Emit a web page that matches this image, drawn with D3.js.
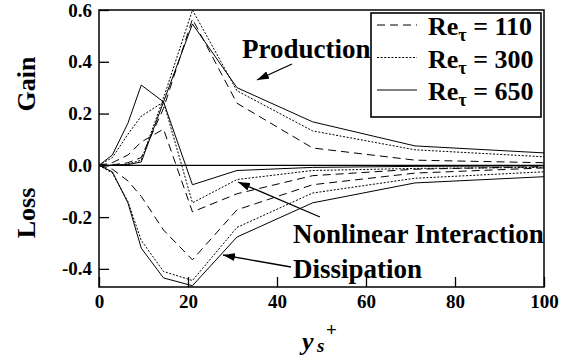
<!DOCTYPE html>
<html>
<head>
<meta charset="utf-8">
<script src="https://cdn.jsdelivr.net/npm/d3@7"></script>
<style>
  body { margin: 0; background: #fff; }
  svg text { font-family: "Liberation Serif", "Times New Roman", Times, Tinos, "Nimbus Roman", "DejaVu Serif", serif; font-weight: bold; fill: #000; }
</style>
</head>
<body>
<div id="chart"></div>
<script>
// y_s+ positions of the budget points
const ysPlus = [0, 3, 6.5, 9.5, 14.5, 21, 31, 48, 71, 100];

// production
const prod110 = [0, 0.002, 0.01, 0.03, 0.22, 0.565, 0.24, 0.067, 0.02, 0.01];
const prod300 = [0, 0, 0.005, 0.02, 0.26, 0.6, 0.288, 0.133, 0.06, 0.033];
const prod650 = [0, 0, 0.003, 0.013, 0.245, 0.546, 0.30, 0.168, 0.075, 0.048];

// nonlinear interaction
const nonlin110 = [0, 0.01, 0.04, 0.09, 0.14, -0.18, -0.11, -0.04, -0.015, -0.005];
const nonlin300 = [0, 0.03, 0.12, 0.19, 0.245, -0.145, -0.055, -0.02, -0.012, -0.008];
const nonlin650 = [0, 0.04, 0.163, 0.31, 0.245, -0.075, -0.02, -0.008, -0.004, -0.002];

// dissipation
const diss110 = [0, -0.015, -0.06, -0.12, -0.25, -0.365, -0.172, -0.075, -0.03, -0.01];
const diss300 = [0, -0.03, -0.14, -0.29, -0.41, -0.445, -0.24, -0.107, -0.05, -0.025];
const diss650 = [0, -0.025, -0.145, -0.32, -0.435, -0.465, -0.277, -0.145, -0.068, -0.044];

// legend / tick labels
const reLabels = ["110", "300", "650"];
const xTicks = [0, 20, 40, 60, 80, 100];
const yTicks = [-0.4, -0.2, 0.0, 0.2, 0.4, 0.6];

const w = 576;
const h = 360;
const dashes = ["8,5", "2,1.6", null];

const svg = d3.select("#chart")
              .append("svg")
              .attr("width", w)
              .attr("height", h);

const xScale = d3.scaleLinear().domain([0, 100]).range([99, 544]);
const yScale = d3.scaleLinear().domain([-0.47, 0.6]).range([287, 10]);

// axes, ticks pointing inward
svg.append("g")
   .attr("transform", "translate(0,287)")
   .call(d3.axisBottom(xScale).tickValues(xTicks).tickSizeInner(-10).tickSizeOuter(0).tickPadding(8))
   .call(g => g.select(".domain").remove())
   .call(g => g.selectAll("text").attr("font-size", 19))
   .call(g => g.selectAll("line").attr("stroke-width", 1.3));

svg.append("g")
   .attr("transform", "translate(99,0)")
   .call(d3.axisLeft(yScale).tickValues(yTicks).tickFormat(d => d.toFixed(1)).tickSizeInner(-10).tickSizeOuter(0).tickPadding(7))
   .call(g => g.select(".domain").remove())
   .call(g => g.selectAll("text").attr("font-size", 19))
   .call(g => g.selectAll("line").attr("stroke-width", 1.3));

// zero line
svg.append("line")
   .attr("x1", xScale(0)).attr("x2", xScale(100))
   .attr("y1", yScale(0)).attr("y2", yScale(0))
   .attr("stroke", "#000").attr("stroke-width", 1.3);

// curves
const line = d3.line().x((d, i) => xScale(ysPlus[i])).y(d => yScale(d));
const groups = [
    [prod110, nonlin110, diss110],
    [prod300, nonlin300, diss300],
    [prod650, nonlin650, diss650]
];
groups.forEach((set, k) => {
    set.forEach(vals => {
        svg.append("path")
           .attr("d", line(vals))
           .attr("fill", "none")
           .attr("stroke", "#000")
           .attr("stroke-width", 1)
           .attr("stroke-dasharray", dashes[k]);
    });
});

// frame
svg.append("rect")
   .attr("x", 99).attr("y", 10)
   .attr("width", 445).attr("height", 277)
   .attr("fill", "none").attr("stroke", "#000").attr("stroke-width", 1.5);

// legend
const leg = svg.append("g");
leg.append("rect")
   .attr("x", 371).attr("y", 13).attr("width", 170).attr("height", 104)
   .attr("fill", "#fff").attr("stroke", "#000").attr("stroke-width", 1.6);
reLabels.forEach((lab, i) => {
    const cy = 25 + i * 32.5;
    leg.append("line")
       .attr("x1", 377).attr("x2", 417).attr("y1", cy).attr("y2", cy)
       .attr("stroke", "#000").attr("stroke-width", 1)
       .attr("stroke-dasharray", dashes[i]);
    const t = leg.append("text").attr("x", 428).attr("y", cy + 10).attr("font-size", 26);
    t.append("tspan").text("Re");
    t.append("tspan").attr("font-size", 18).attr("dy", 6).text("τ");
    t.append("tspan").attr("dy", -6).text(" = " + lab);
});

// annotations with arrows
const defs = svg.append("defs");
defs.append("marker")
    .attr("id", "head")
    .attr("viewBox", "0 0 12 8")
    .attr("refX", 12).attr("refY", 4)
    .attr("markerWidth", 12).attr("markerHeight", 8)
    .attr("markerUnits", "userSpaceOnUse")
    .attr("orient", "auto")
    .append("path").attr("d", "M0,0 L12,4 L0,8 Z").attr("fill", "#000");

const notes = [
    {text: "Production", x: 242, y: 58, from: [292, 64], to: [257, 80]},
    {text: "Nonlinear Interaction", x: 293, y: 243, from: [320, 217], to: [238, 182]},
    {text: "Dissipation", x: 293, y: 278, from: [291, 267], to: [223, 255]}
];
notes.forEach(n => {
    svg.append("text").attr("x", n.x).attr("y", n.y).attr("font-size", 27).text(n.text);
    svg.append("line")
       .attr("x1", n.from[0]).attr("y1", n.from[1])
       .attr("x2", n.to[0]).attr("y2", n.to[1])
       .attr("stroke", "#000").attr("stroke-width", 1.3)
       .attr("marker-end", "url(#head)");
});

// axis titles
svg.append("text").attr("transform", "translate(35,84) rotate(-90)")
   .attr("text-anchor", "middle").attr("font-size", 26).text("Gain");
svg.append("text").attr("transform", "translate(35,213) rotate(-90)")
   .attr("text-anchor", "middle").attr("font-size", 26).text("Loss");

svg.append("text").attr("x", 302).attr("y", 350).attr("font-size", 26).attr("font-style", "italic").text("y");
svg.append("text").attr("x", 317).attr("y", 352).attr("font-size", 19).attr("font-style", "italic").text("s");
svg.append("text").attr("x", 326).attr("y", 336).attr("font-size", 19).text("+");
</script>
</body>
</html>
